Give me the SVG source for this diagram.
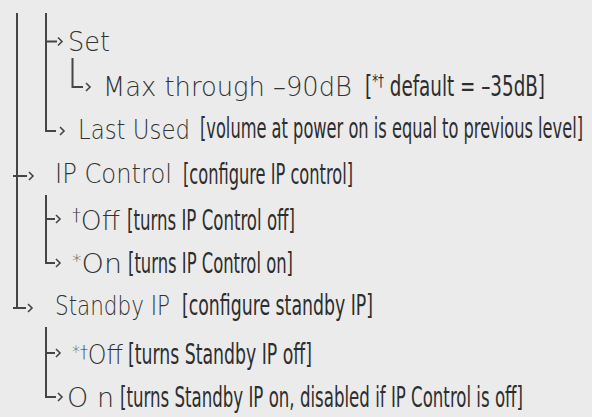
<svg xmlns="http://www.w3.org/2000/svg" width="592" height="417" viewBox="0 0 592 417">
<style>
.bg{fill:#ebebeb}
.m{font-family:"DejaVu Sans","Liberation Sans",sans-serif;font-weight:200;font-size:27px;fill:#333333}
.c{font-family:"Liberation Sans Narrow","DejaVu Sans Condensed","Liberation Sans",sans-serif;font-size:28px;fill:#2e2e2e}
.sup{font-size:18px}
.ln{fill:none;stroke:#454545;stroke-width:2}
.ch{fill:none;stroke:#454545;stroke-width:1.6}
</style>
<defs>
<path id="chev" d="M-4,-4 L0,0 L-4,4"/>
</defs>
<rect class="bg" width="592" height="417"/>
<g id="connectors">
<path class="ln" d="M17,13 V308 M13,308 H26 M13,176 H27"/>
<use href="#chev" class="ch" x="32" y="308"/>
<use href="#chev" class="ch" x="33" y="176"/>
<path class="ln" d="M46,13 V131 H56 M46,41.5 H57"/>
<use href="#chev" class="ch" x="62" y="41.5"/>
<use href="#chev" class="ch" x="64" y="131"/>
<path class="ln" d="M72.5,58 V87 H83"/>
<use href="#chev" class="ch" x="90" y="87"/>
<path class="ln" d="M46,195 V263 H55 M46,219 H55"/>
<use href="#chev" class="ch" x="60" y="219"/>
<use href="#chev" class="ch" x="60" y="263"/>
<path class="ln" d="M46,327 V397 H56 M46,353 H55"/>
<use href="#chev" class="ch" x="60" y="353"/>
<use href="#chev" class="ch" x="62" y="397"/>
</g>
<g id="set"><text class="m" x="68" y="51" font-size="30" textLength="42" lengthAdjust="spacingAndGlyphs">Set</text></g>
<g id="max">
<text class="m" x="103" y="96" font-size="26" textLength="249" lengthAdjust="spacingAndGlyphs">Max through –90dB</text>
<text class="c" x="365" y="96" textLength="180" lengthAdjust="spacingAndGlyphs">[<tspan class="sup" dy="-9">*†</tspan><tspan dy="9"> default = –35dB]</tspan></text>
</g>
<g id="last-used">
<text class="m" x="78" y="139" textLength="112" lengthAdjust="spacingAndGlyphs">Last Used</text>
<text class="c" x="200" y="138" textLength="383" lengthAdjust="spacingAndGlyphs">[volume at power on is equal to previous level]</text>
</g>
<g id="ip-control">
<text class="m" x="55" y="183" textLength="117" lengthAdjust="spacingAndGlyphs">IP Control</text>
<text class="c" x="183" y="184" textLength="170" lengthAdjust="spacingAndGlyphs">[configure IP control]</text>
</g>
<g id="ip-off">
<text class="m" x="72" y="230" textLength="48" lengthAdjust="spacingAndGlyphs"><tspan class="sup" dy="-9">†</tspan><tspan dy="9">Off</tspan></text>
<text class="c" x="127" y="230" textLength="168" lengthAdjust="spacingAndGlyphs">[turns IP Control off]</text>
</g>
<g id="ip-on">
<text class="m" x="72" y="273" textLength="50" lengthAdjust="spacingAndGlyphs"><tspan class="sup" font-size="22" dy="-6">*</tspan><tspan dy="6">On</tspan></text>
<text class="c" x="128" y="273" textLength="165" lengthAdjust="spacingAndGlyphs">[turns IP Control on]</text>
</g>
<g id="standby-ip">
<text class="m" x="55" y="315" textLength="115" lengthAdjust="spacingAndGlyphs">Standby IP</text>
<text class="c" x="182" y="315" textLength="191" lengthAdjust="spacingAndGlyphs">[configure standby IP]</text>
</g>
<g id="standby-off">
<text class="m" x="72" y="364" textLength="51" lengthAdjust="spacingAndGlyphs"><tspan class="sup" font-size="20" dy="-6">*†</tspan><tspan dy="6">Off</tspan></text>
<text class="c" x="128" y="364" textLength="184" lengthAdjust="spacingAndGlyphs">[turns Standby IP off]</text>
</g>
<g id="standby-on">
<text class="m" x="67" y="407">O<tspan x="97">n</tspan></text>
<text class="c" x="120" y="407" textLength="403" lengthAdjust="spacingAndGlyphs">[turns Standby IP on, disabled if IP Control is off]</text>
</g>
</svg>
